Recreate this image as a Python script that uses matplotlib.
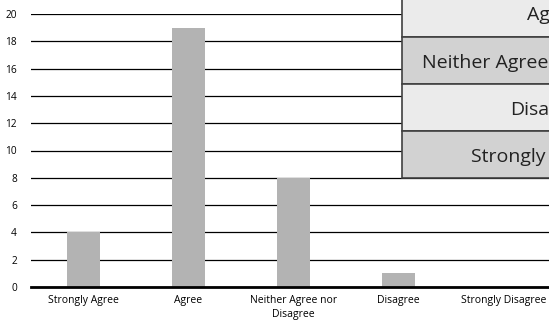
import matplotlib.pyplot as plt
from matplotlib.patches import Rectangle

plt.rcParams['font.family'] = ['Open Sans', 'DejaVu Sans']

# Survey responses
categories = ['Strongly Agree', 'Agree', 'Neither Agree nor\nDisagree', 'Disagree', 'Strongly Disagree']
counts = [4, 19, 8, 1, 0]

# Rows of the response table shown over the chart
table_rows = ['Agree', 'Neither Agree nor Disagree', 'Disagree', 'Strongly Disagree']
table_text_x = [527, 422, 510, 471]   # left edge of each row's text, in pixels
row_colors = ['#ebebeb', '#d2d2d2', '#ebebeb', '#d2d2d2']

W, H = 549, 324
fig = plt.figure(figsize=(W / 100, H / 100), dpi=100)
ax = fig.add_axes([31 / W, 37 / H, 525 / W, 273 / H])

x = range(len(categories))
ax.bar(x, counts, width=0.31, color='#b3b3b3', zorder=3)

ax.set_xlim(-0.5, len(categories) - 0.5)
ax.set_ylim(0, 20)
ax.set_yticks(range(0, 21, 2))
ax.set_xticks(list(x))
ax.set_xticklabels(categories, fontsize=7.5, linespacing=1.3)
ax.tick_params(axis='y', labelsize=7.3, length=0, pad=10)
ax.tick_params(axis='x', length=0, pad=6)
ax.grid(axis='y', color='black', linewidth=0.9, zorder=0)
for s in ['top', 'right', 'left']:
    ax.spines[s].set_visible(False)
ax.spines['bottom'].set_linewidth(2)
ax.spines['bottom'].set_zorder(4)

# Table drawn in pixel coordinates (y measured from top)
left, top, row_h = 402, -10, 47
for i, (label, tx, c) in enumerate(zip(table_rows, table_text_x, row_colors)):
    y0 = top + i * row_h
    fig.patches.append(Rectangle((left / W, 1 - (y0 + row_h) / H), (W - left + 20) / W, row_h / H,
                                 transform=fig.transFigure, facecolor=c,
                                 edgecolor='#404040', linewidth=1.2, zorder=10))
    fig.text(tx / W, 1 - (y0 + row_h / 2 + 2) / H, label, fontsize=14, ha='left', va='center',
             color='#222222', zorder=11)

fig.savefig('out.png', dpi=100)
